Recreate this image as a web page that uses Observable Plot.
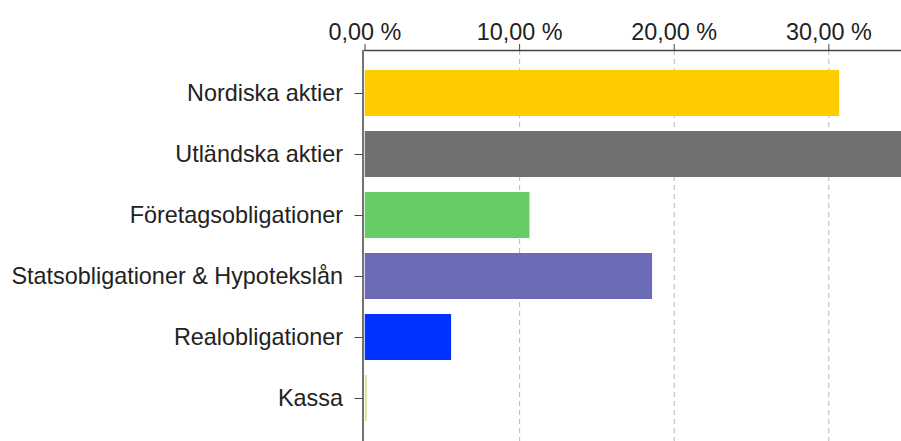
<!DOCTYPE html>
<html>
<head>
<meta charset="utf-8">
<script src="https://cdn.jsdelivr.net/npm/d3@7"></script>
<script src="https://cdn.jsdelivr.net/npm/@observablehq/plot@0.6"></script>
<style>
  html, body { margin: 0; padding: 0; background: #fff; }
</style>
</head>
<body>
<div id="chart"></div>
<script>
const categories = [
  "Nordiska aktier",
  "Utländska aktier",
  "Företagsobligationer",
  "Statsobligationer & Hypotekslån",
  "Realobligationer",
  "Kassa"
];
const values = [30.7, 35.0, 10.67, 18.6, 5.6, 0.15];
const colors = ["#FFCC00", "#717171", "#66CC66", "#6B6BB7", "#0033FF", "#E0E0A0"];
const xTicks = [0, 10, 20, 30];

const data = categories.map((c, i) => ({category: c, value: values[i], color: colors[i]}));
const fmt = d => d.toFixed(2).replace(".", ",") + " %";

const chart = Plot.plot({
  width: 901,
  height: 441,
  marginTop: 50,
  marginLeft: 364.5,
  marginRight: 0,
  marginBottom: 0,
  style: {fontFamily: "'Liberation Sans', Arial, sans-serif", fontSize: "23.4px", color: "#222", background: "#fff"},
  x: {domain: [0, 34.7], label: null},
  y: {domain: categories, range: [62, 428], paddingInner: 0.25, paddingOuter: 0.125, label: null},
  color: {type: "identity"},
  marks: [
    Plot.gridX(xTicks.filter(d => d > 0), {stroke: "#b8b8b8", strokeOpacity: 1, strokeDasharray: "5,4"}),
    Plot.barX(data, {x: "value", y: "category", fill: "color", clip: true}),
    Plot.frame({anchor: "top", stroke: "#444", strokeWidth: 1.5}),
    Plot.ruleX([0], {dx: -2, stroke: "#444", strokeWidth: 1.5}),
    Plot.axisX({anchor: "top", ticks: xTicks, tickSize: 7, tickPadding: 4, tickFormat: fmt, stroke: "#444", fill: "#222", label: null}),
    Plot.axisY({anchor: "left", tickSize: 8, tickPadding: 12, dx: -2, stroke: "#444", fill: "#222", label: null})
  ]
});
document.getElementById("chart").appendChild(chart);
</script>
</body>
</html>
